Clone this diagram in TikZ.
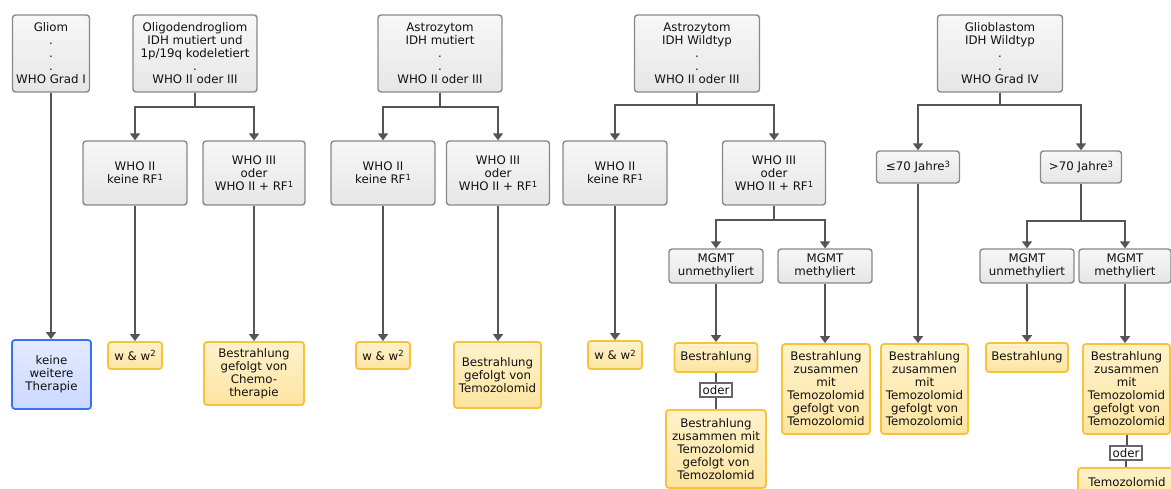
\documentclass[tikz,border=0pt]{standalone}
\usepackage{fontspec}
\setmainfont{DejaVu Sans}
\usetikzlibrary{arrows.meta}
\definecolor{linec}{HTML}{555555}
\definecolor{txt}{HTML}{111111}
\definecolor{gborder}{HTML}{888888}
\definecolor{gtop}{HTML}{F7F7F7}
\definecolor{gbot}{HTML}{E6E6E6}
\definecolor{yborder}{HTML}{F8C23A}
\definecolor{ytop}{HTML}{FFF2CC}
\definecolor{ybot}{HTML}{FDE4A0}
\definecolor{bborder}{HTML}{3A70F5}
\definecolor{btop}{HTML}{E4EBFF}
\definecolor{bbot}{HTML}{CBD8FF}
\definecolor{oderc}{HTML}{666666}
\newcommand\myfs{\fontsize{11.8}{13}\selectfont}
\newcommand\mysup[1]{\raisebox{3.2pt}{\fontsize{8.5}{8.5}\selectfont #1}}
\tikzset{
  base/.style={align=center, inner sep=0pt, font=\myfs, text=txt, rounded corners=3pt},
  gbox/.style={base, draw=gborder, line width=1.4pt, top color=gtop, bottom color=gbot},
  ybox/.style={base, draw=yborder, line width=1.8pt, top color=ytop, bottom color=ybot},
  bbox/.style={base, draw=bborder, line width=1.8pt, top color=btop, bottom color=bbot},
  sz/.style 2 args={minimum width=#1pt, minimum height=#2pt},
  oderbox/.style={draw=oderc, line width=1.2pt, fill=white, inner sep=0pt, font=\myfs, text=txt, minimum width=32pt, minimum height=14pt},
  conn/.style={draw=linec, line width=2pt, -{Triangle[width=10pt,length=7pt]}},
  plainline/.style={draw=linec, line width=2pt}
}
\begin{document}
\begin{tikzpicture}[x=1pt,y=-1pt]
\useasboundingbox (0,0) rectangle (1171,489);
\clip (0,0) rectangle (1171,489);
% top row
\node[gbox,sz={77}{77}] (gliom) at (51,53.5) {Gliom\\.\\.\\.\\WHO Grad I};
\node[gbox,sz={124}{77}] (oligo) at (195,53.5) {Oligodendrogliom\\IDH mutiert und\\1p/19q kodeletiert\\.\\WHO II oder III};
\node[gbox,sz={124}{77}] (astm) at (440,53.5) {Astrozytom\\IDH mutiert\\.\\.\\WHO II oder III};
\node[gbox,sz={125}{77}] (astw) at (697,53.5) {Astrozytom\\IDH Wildtyp\\.\\.\\WHO II oder III};
\node[gbox,sz={125}{77}] (glio) at (1000,53.5) {Glioblastom\\IDH Wildtyp\\.\\.\\WHO Grad IV};
% second row
\node[gbox,sz={104}{64}] (o2) at (135,173) {WHO II\\keine RF\mysup{1}};
\node[gbox,sz={102}{64}] (o3) at (254,173) {WHO III\\oder\\WHO II + RF\mysup{1}};
\node[gbox,sz={104}{64}] (am2) at (383,173) {WHO II\\keine RF\mysup{1}};
\node[gbox,sz={103}{64}] (am3) at (498,173) {WHO III\\oder\\WHO II + RF\mysup{1}};
\node[gbox,sz={104}{64}] (aw2) at (615,173) {WHO II\\keine RF\mysup{1}};
\node[gbox,sz={103}{64}] (aw3) at (774,173) {WHO III\\oder\\WHO II + RF\mysup{1}};
\node[gbox,sz={83}{32}] (le70) at (918,167) {≤70 Jahre\mysup{3}};
\node[gbox,sz={81}{32}] (gt70) at (1081,167) {>70 Jahre\mysup{3}};
% MGMT row
\node[gbox,sz={94}{34}] (awu) at (716,266) {MGMT\\unmethyliert};
\node[gbox,sz={94}{34}] (awm) at (825,266) {MGMT\\methyliert};
\node[gbox,sz={94}{34}] (gu) at (1027,266) {MGMT\\unmethyliert};
\node[gbox,sz={92}{34}] (gm) at (1125,266) {MGMT\\methyliert};
% results
\node[bbox,sz={79}{69}] (keine) at (51.5,374.5) {keine\\weitere\\Therapie};
\node[ybox,sz={54}{27}] (ow) at (135,355.5) {w \& w\mysup{2}};
\node[ybox,sz={100}{63}] (oc) at (254,373.5) {Bestrahlung\\gefolgt von\\Chemo-\\therapie};
\node[ybox,sz={54}{27}] (amw) at (383,355.5) {w \& w\mysup{2}};
\node[ybox,sz={87}{66}] (amr) at (497.5,375) {Bestrahlung\\gefolgt von\\Temozolomid};
\node[ybox,sz={54}{28}] (aww) at (615,355) {w \& w\mysup{2}};
\node[ybox,sz={83}{29}] (awb) at (716,357.5) {Bestrahlung};
\node[ybox,sz={100}{78}] (awz) at (716,449) {Bestrahlung\\zusammen mit\\Temozolomid\\gefolgt von\\Temozolomid};
\node[ybox,sz={88}{90}] (awr) at (826,389) {Bestrahlung\\zusammen\\mit\\Temozolomid\\gefolgt von\\Temozolomid};
\node[ybox,sz={87}{90}] (ler) at (924.5,389) {Bestrahlung\\zusammen\\mit\\Temozolomid\\gefolgt von\\Temozolomid};
\node[ybox,sz={82}{29}] (gb) at (1027,357.5) {Bestrahlung};
\node[ybox,sz={87}{90}] (gr) at (1126.5,389) {Bestrahlung\\zusammen\\mit\\Temozolomid\\gefolgt von\\Temozolomid};
\node[ybox,sz={98}{28}] (gt) at (1127,482) {Temozolomid};
\node[oderbox] (awo) at (716,390) {oder};
\node[oderbox] (go) at (1126,453) {oder};
% connectors
\draw[conn] (gliom.south) -- (gliom.south |- keine.north);
\draw[conn] (oligo.south) -- ++(0,14) -| (o2.north);
\draw[conn] (oligo.south) -- ++(0,14) -| (o3.north);
\draw[conn] (o2.south) -- (o2.south |- ow.north);
\draw[conn] (o3.south) -- (o3.south |- oc.north);
\draw[conn] (astm.south) -- ++(0,14) -| (am2.north);
\draw[conn] (astm.south) -- ++(0,14) -| (am3.north);
\draw[conn] (am2.south) -- (am2.south |- amw.north);
\draw[conn] (am3.south) -- (am3.south |- amr.north);
\draw[conn] (astw.south) -- ++(0,12) -| (aw2.north);
\draw[conn] (astw.south) -- ++(0,12) -| (aw3.north);
\draw[conn] (aw2.south) -- (aw2.south |- aww.north);
\draw[conn] (aw3.south) -- ++(0,14) -| (awu.north);
\draw[conn] (aw3.south) -- ++(0,14) -| (awm.north);
\draw[conn] (awu.south) -- (awu.south |- awb.north);
\draw[plainline] (awb.south) -- (awb.south |- awo.north);
\draw[plainline] (awo.south) -- (awo.south |- awz.north);
\draw[conn] (awm.south) -- (awm.south |- awr.north);
\draw[conn] (glio.south) -- ++(0,12) -| (le70.north);
\draw[conn] (glio.south) -- ++(0,12) -| (gt70.north);
\draw[conn] (le70.south) -- (le70.south |- ler.north);
\draw[conn] (gt70.south) -- ++(0,37) -| (gu.north);
\draw[conn] (gt70.south) -- ++(0,37) -| (gm.north);
\draw[conn] (gu.south) -- (gu.south |- gb.north);
\draw[conn] (gm.south) -- (gm.south |- gr.north);
\draw[plainline] (gr.south) -- (gr.south |- go.north);
\draw[plainline] (go.south) -- (go.south |- gt.north);
\end{tikzpicture}
\end{document}
